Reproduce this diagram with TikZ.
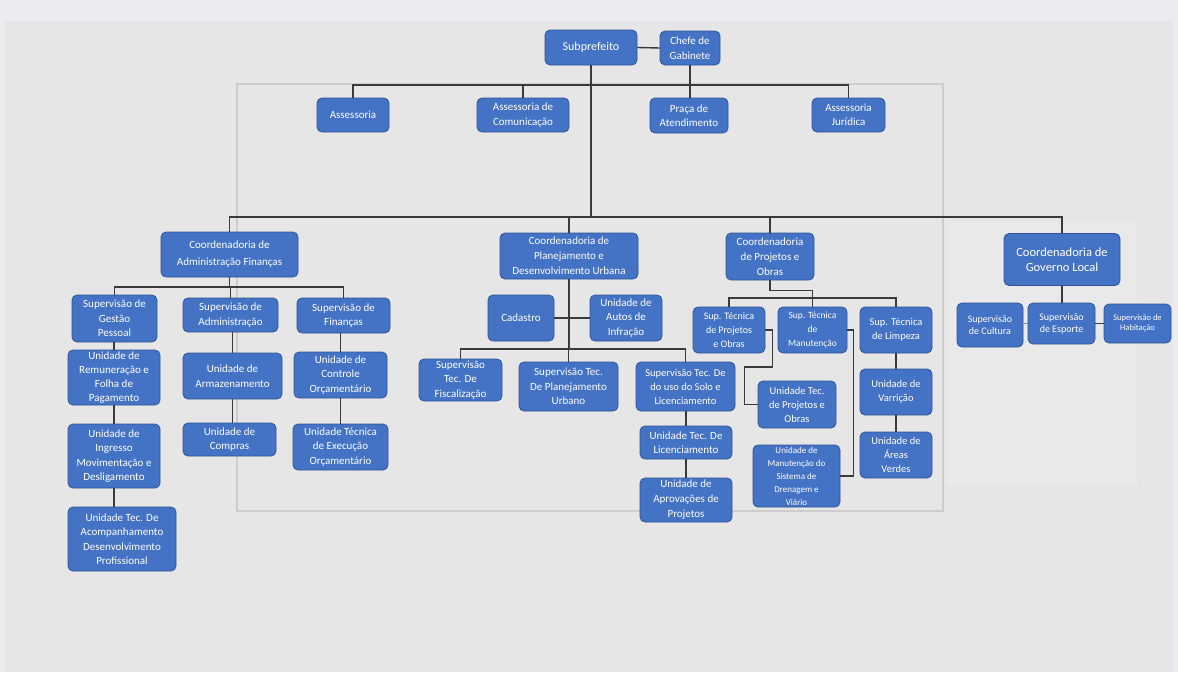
\documentclass[tikz,border=0pt]{standalone}
\usepackage{fontspec}
\setmainfont{Carlito}
\usetikzlibrary{calc}
\definecolor{outerbg}{HTML}{EBECF0}
\definecolor{panelbg}{HTML}{E6E6E6}
\definecolor{lightbg}{HTML}{E9E9E9}
\definecolor{framec}{HTML}{CDCDCD}
\definecolor{boxblue}{HTML}{4472C4}
\definecolor{boxborder}{HTML}{2F5597}
\definecolor{linec}{HTML}{3A3A3A}
\newcommand\fsz[2]{\fontsize{#1}{#2}\selectfont}
\begin{document}
\begin{tikzpicture}[x=1pt,y=-1pt,
  box/.style={draw=boxborder, fill=boxblue, rounded corners=5pt, text=white,
    align=center, inner sep=0pt, line width=0.8pt, font=\fsz{11}{14.5}},
  conn/.style={draw=linec, line width=1.4pt},
  faintconn/.style={draw=linec!60, line width=0.8pt}]
\useasboundingbox (0,0) rectangle (1178,672);
\fill[outerbg] (0,0) rectangle (1178,672);
\fill[panelbg] (5,21) rectangle (1173,672);
\fill[lightbg] (947,222) rectangle (1137,485);
\draw[framec, line width=1.2pt] (237,84) rectangle (943,511);

% top
\node[box, minimum width=92pt, minimum height=35pt, font=\fsz{12}{14}] (sub) at (591,47.5) {Subprefeito};
\node[box, minimum width=60pt, minimum height=34pt] (chefe) at (690,48) {Chefe de\\Gabinete};
\node[box, minimum width=72pt, minimum height=34pt] (ass) at (353,115) {Assessoria};
\node[box, minimum width=92pt, minimum height=34pt] (acom) at (523,115) {Assessoria de\\Comunicação};
\node[box, minimum width=78pt, minimum height=35pt] (praca) at (689,115.5) {Praça de\\Atendimento};
\node[box, minimum width=73pt, minimum height=34pt] (jur) at (848.5,115) {Assessoria\\Jurídica};

% coordenadorias
\node[box, minimum width=137pt, minimum height=45pt, font=\fsz{11}{17}] (cadm) at (229.5,254.5) {Coordenadoria de\\Administração Finanças};
\node[box, minimum width=138pt, minimum height=46pt, font=\fsz{11}{15}] (cplan) at (569,256) {Coordenadoria de\\Planejamento e\\Desenvolvimento Urbana};
\node[box, minimum width=88pt, minimum height=47pt, font=\fsz{11}{15}] (cproj) at (770,256.5) {Coordenadoria\\de Projetos e\\Obras};
\node[box, minimum width=116pt, minimum height=52pt, font=\fsz{12.5}{15}] (cgov) at (1062,259.5) {Coordenadoria de\\Governo Local};

% administracao
\node[box, minimum width=85pt, minimum height=47pt] (sgest) at (114.5,318.5) {Supervisão de\\Gestão\\Pessoal};
\node[box, minimum width=95pt, minimum height=34pt] (sadm) at (230.5,315) {Supervisão de\\Administração};
\node[box, minimum width=93pt, minimum height=35pt] (sfin) at (343.5,315.5) {Supervisão de\\Finanças};
\node[box, minimum width=92pt, minimum height=55pt, font=\fsz{11}{14}] (urem) at (114,377.5) {Unidade de\\Remuneração e\\Folha de\\Pagamento};
\node[box, minimum width=92pt, minimum height=64pt] (uing) at (114,456) {Unidade de\\Ingresso\\Movimentação e\\Desligamento};
\node[box, minimum width=108pt, minimum height=64pt] (uacomp) at (122,539) {Unidade Tec. De\\Acompanhamento\\Desenvolvimento\\Profissional};
\node[box, minimum width=99pt, minimum height=46pt] (uarm) at (232.5,376) {Unidade de\\Armazenamento};
\node[box, minimum width=93pt, minimum height=33pt] (ucomp) at (229.5,439.5) {Unidade de\\Compras};
\node[box, minimum width=93pt, minimum height=46pt] (uctrl) at (340.5,375) {Unidade de\\Controle\\Orçamentário};
\node[box, minimum width=95pt, minimum height=46pt] (uexec) at (340.5,447) {Unidade Técnica\\de Execução\\Orçamentário};

% planejamento
\node[box, minimum width=66pt, minimum height=46pt] (cad) at (521,318) {Cadastro};
\node[box, minimum width=72pt, minimum height=46pt] (autos) at (626,318) {Unidade de\\Autos de\\Infração};
\node[box, minimum width=83pt, minimum height=42pt] (sfisc) at (460.5,380) {Supervisão\\Tec. De\\Fiscalização};
\node[box, minimum width=99pt, minimum height=49pt] (splan) at (568.5,386.5) {Supervisão Tec.\\De Planejamento\\Urbano};
\node[box, minimum width=99pt, minimum height=49pt, font=\fsz{10.5}{14}] (susolo) at (685.5,386.5) {Supervisão Tec. De\\do uso do Solo e\\Licenciamento};
\node[box, minimum width=92pt, minimum height=33pt] (ulic) at (686,442.5) {Unidade Tec. De\\Licenciamento};
\node[box, minimum width=92pt, minimum height=44pt, font=\fsz{11}{15}] (uaprov) at (686,500) {Unidade de\\Aprovações de\\Projetos};

% projetos e obras
\node[box, minimum width=72pt, minimum height=46pt, font=\fsz{10}{14}] (sproj) at (729,330) {Sup. Técnica\\de Projetos\\e Obras};
\node[box, minimum width=69pt, minimum height=46pt, font=\fsz{9.5}{14}] (sman) at (812.5,330) {Sup. Técnica\\de\\Manutenção};
\node[box, minimum width=72pt, minimum height=46pt, font=\fsz{10.5}{14}] (slimp) at (896,330) {Sup. Técnica\\de Limpeza};
\node[box, minimum width=78pt, minimum height=47pt, font=\fsz{10.5}{14}] (utproj) at (797,404.5) {Unidade Tec.\\de Projetos e\\Obras};
\node[box, minimum width=87pt, minimum height=62pt, font=\fsz{9}{13}] (umdren) at (796.5,476) {Unidade de\\Manutenção do\\Sistema de\\Drenagem e\\Viário};
\node[box, minimum width=72pt, minimum height=46pt, font=\fsz{10.5}{14}] (uvarr) at (896,392) {Unidade de\\Varrição};
\node[box, minimum width=72pt, minimum height=46pt, font=\fsz{10.5}{14}] (uareas) at (896,455) {Unidade de\\Áreas\\Verdes};

% governo local
\node[box, minimum width=66pt, minimum height=44pt, font=\fsz{10}{12}] (scult) at (990,325) {Supervisão\\de Cultura};
\node[box, minimum width=67pt, minimum height=41pt, font=\fsz{10}{12}] (sesp) at (1061.5,323.5) {Supervisão\\de Esporte};
\node[box, minimum width=67pt, minimum height=39pt, font=\fsz{8.5}{10.5}] (shab) at (1137.5,323.5) {Supervisão de\\Habitação};

% connectors: top
\draw[conn] (sub.east) -- (chefe.west);
\coordinate (topbar) at (0,85);
\draw[conn] (ass.north) -- (ass.north |- topbar) -- (jur.north |- topbar) -- (jur.north);
\draw[conn] (acom.north) -- (acom.north |- topbar);
\draw[conn] (chefe.south) -- (chefe.south |- praca.north);
\coordinate (bar2) at (0,217);
\draw[conn] (sub.south) -- (sub.south |- bar2);
\draw[conn] (cadm.north) -- (cadm.north |- bar2) -- (cgov.north |- bar2) -- (cgov.north);
\draw[conn] (cplan.north) -- (cplan.north |- bar2);
\draw[conn] (cproj.north) -- (cproj.north |- bar2);

% administracao
\coordinate (bar3) at (0,287);
\draw[conn] (cadm.south) -- (cadm.south |- bar3);
\draw[conn] (sgest.north) -- (sgest.north |- bar3) -- (sfin.north |- bar3) -- (sfin.north);
\draw[conn] (sadm.north) -- (sadm.north |- bar3);
\draw[conn] (urem.north) -- (urem.north |- sgest.south);
\draw[conn] (uing.north) -- (uing.north |- urem.south);
\draw[conn] (uing.south) -- (uing.south |- uacomp.north);
\draw[conn] (uarm.north) -- (uarm.north |- sadm.south);
\draw[conn] (ucomp.north -| uarm.south) -- (uarm.south);
\draw[conn] (uctrl.north) -- (uctrl.north |- sfin.south);
\draw[conn] (uexec.north) -- (uexec.north |- uctrl.south);

% planejamento
\coordinate (bar4) at (0,349);
\draw[conn] (cplan.south) -- (cplan.south |- bar4);
\draw[conn] (cad.east) -- (autos.west);
\draw[conn] (sfisc.north) -- (sfisc.north |- bar4) -- (susolo.north |- bar4) -- (susolo.north);
\draw[conn] (splan.north) -- (splan.north |- bar4);
\draw[conn] (ulic.north) -- (ulic.north |- susolo.south);
\draw[conn] (uaprov.north) -- (uaprov.north |- ulic.south);

% projetos
\coordinate (bar5) at (0,298);
\draw[conn] (cproj.south) -- ++(0,10) -| (sman.north);
\draw[conn] (sproj.north) -- (sproj.north |- bar5) -- (slimp.north |- bar5) -- (slimp.north);
\draw[conn] (sproj.east) -- ++(7,0) -- ++(0,37) -- ++(-28,0) |- (utproj.west);
\draw[conn] (sman.east) -- ++(6,0) |- (umdren.east);
\draw[conn] (uvarr.north) -- (uvarr.north |- slimp.south);
\draw[conn] (uareas.north) -- (uareas.north |- uvarr.south);

% governo
\draw[conn] (cgov.south) -- (cgov.south |- sesp.north);
\draw[conn] (sesp.east) -- (shab.west |- sesp.east);
\draw[faintconn] (scult.east |- sesp.west) -- (sesp.west);
\end{tikzpicture}
\end{document}
